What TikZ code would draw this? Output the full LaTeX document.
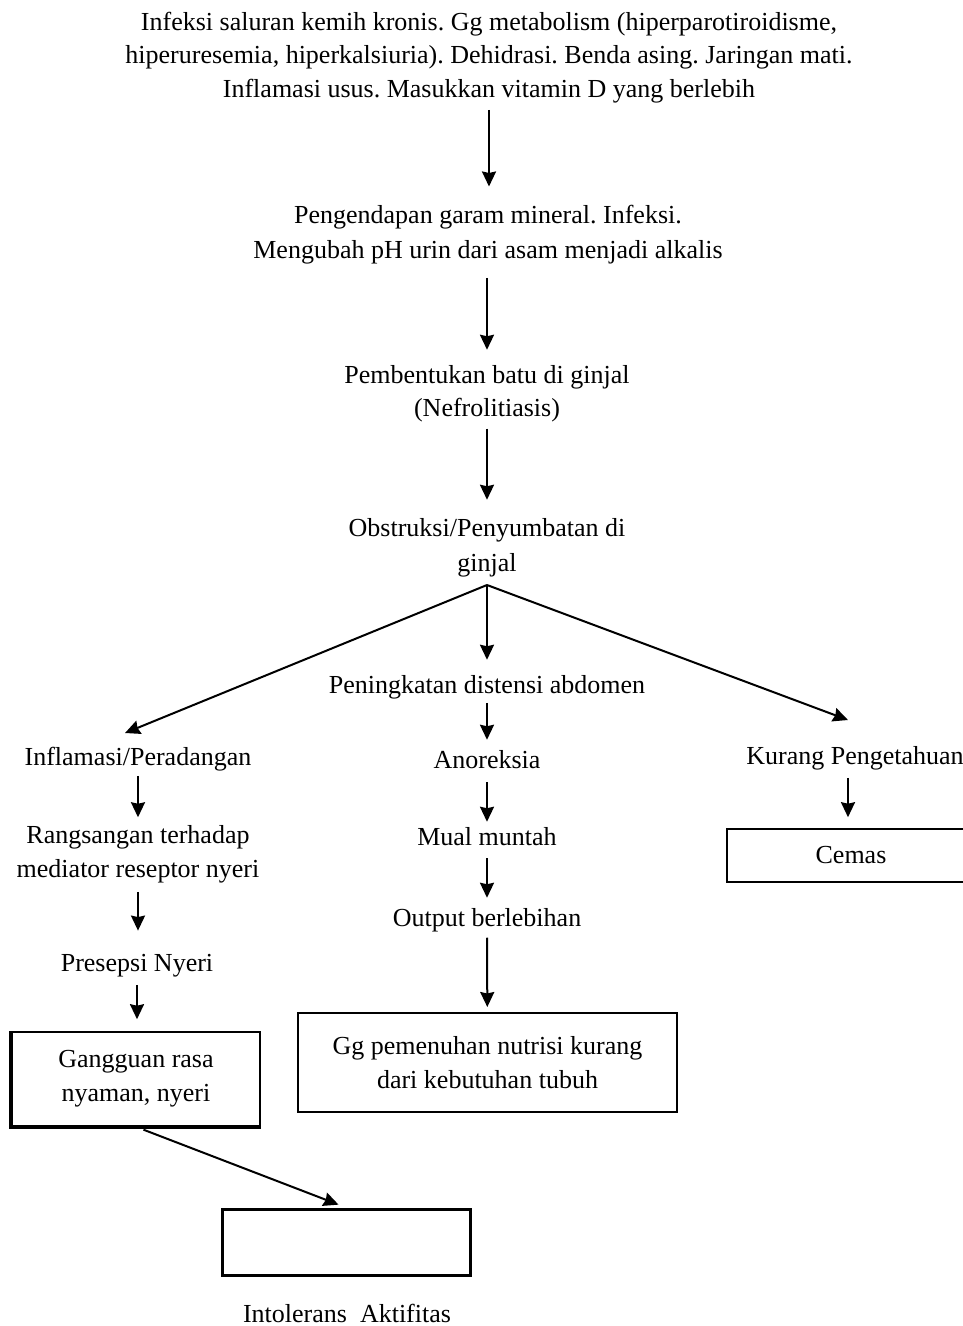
\documentclass[tikz,border=0pt]{standalone}
\usepackage{fontspec}
\setmainfont{Liberation Serif}
\usetikzlibrary{arrows.meta}
\frenchspacing
\begin{document}
\begin{tikzpicture}[x=1pt,y=-1pt,
  txt/.style={inner sep=0pt,align=center,anchor=base,font=\fontsize{26}{34}\selectfont},
  boxnode/.style={draw,line width=1.6pt,inner sep=0pt,align=center,font=\fontsize{26}{34}\selectfont},
  arr/.style={line width=2pt,-{Stealth[length=15pt,width=14pt,inset=1.5pt]}}]
\useasboundingbox[fill=white] (0,0) rectangle (963,1326);
% text nodes (anchor base = baseline of last line)
\node[txt,font=\fontsize{26}{33.5}\selectfont] (t1) at (489,97) {Infeksi saluran kemih kronis. Gg metabolism (hiperparotiroidisme,\\hiperuresemia, hiperkalsiuria). Dehidrasi. Benda asing. Jaringan mati.\\Inflamasi usus. Masukkan vitamin D yang berlebih};
\node[txt,font=\fontsize{26}{35}\selectfont] (t2) at (488,258) {Pengendapan garam mineral. Infeksi.\\Mengubah pH urin dari asam menjadi alkalis};
\node[txt,font=\fontsize{26}{33}\selectfont] (t3) at (487,416) {Pembentukan batu di ginjal\\(Nefrolitiasis)};
\node[txt,font=\fontsize{26}{35}\selectfont] (t4) at (487,571) {Obstruksi/Penyumbatan di\\ginjal};
\coordinate (br) at (487,585);
\node[txt] (pen) at (487,693) {Peningkatan distensi abdomen};
\node[txt] (inf) at (138,765) {Inflamasi/Peradangan};
\node[txt] (ano) at (487,768) {Anoreksia};
\node[txt] (kur) at (855,764) {Kurang Pengetahuan};
\node[txt,font=\fontsize{26}{33.5}\selectfont] (ran) at (138,877) {Rangsangan terhadap\\mediator reseptor nyeri};
\node[txt] (mua) at (487,845) {Mual muntah};
\node[boxnode,minimum width=248pt,minimum height=53pt] (cem) at (851,855.5) {Cemas};
\node[txt] (out) at (487,926) {Output berlebihan};
\node[txt] (pre) at (137,971) {Presepsi Nyeri};
\node[boxnode,minimum width=248pt,minimum height=94pt] (gan) at (136,1079) {Gangguan rasa\\nyaman, nyeri};
\draw[line width=3.5pt] (gan.north west) -- (gan.south west) -- (gan.south east);
\node[boxnode,line width=2pt,minimum width=379pt,minimum height=99pt] (nut) at (487.5,1062.5) {Gg pemenuhan nutrisi kurang\\dari kebutuhan tubuh};
\node[boxnode,line width=3pt,minimum width=248pt,minimum height=66pt] (emp) at (346,1242) {};
\node[txt] (int) at (347,1322) {Intolerans~ Aktifitas};
\coordinate (le) at (125,733);
\coordinate (re) at (848,720);
% connectors
\draw[arr,shorten <=7pt,shorten >=18pt] (t1.south) -- (t1.south |- t2.north);
\draw[arr,shorten <=14pt,shorten >=15pt] (t3.north |- t2.south) -- (t3.north);
\draw[arr,shorten <=7pt,shorten >=18pt] (t3) -- (t4);
\draw[arr,shorten >=15pt] (br) -- (pen);
\draw[arr] (br) -- (le);
\draw[arr] (br) -- (re);
\draw[arr,shorten <=4pt,shorten >=10pt] (pen) -- (ano);
\draw[arr,shorten <=5pt,shorten >=8pt] (inf.south) -- (inf.south |- ran.north);
\draw[arr,shorten <=14pt,shorten >=5pt] (ano) -- (mua);
\draw[arr,shorten <=8pt,shorten >=11pt] ([xshift=-7pt]kur.south) -- ([xshift=-7pt]kur.south |- cem.north);
\draw[arr,shorten <=9pt,shorten >=23pt] (ran) -- (ran |- pre.north);
\draw[arr,shorten <=13pt,shorten >=10pt] (mua) -- (out);
\draw[arr,shorten <=8pt,shorten >=12pt] (pre) -- (pre |- gan.north);
\draw[arr,shorten <=6pt,shorten >=5pt] (out) -- (nut);
\draw[arr,shorten <=8pt,shorten >=8pt] (gan.south) -- (emp.north);
\end{tikzpicture}
\end{document}
